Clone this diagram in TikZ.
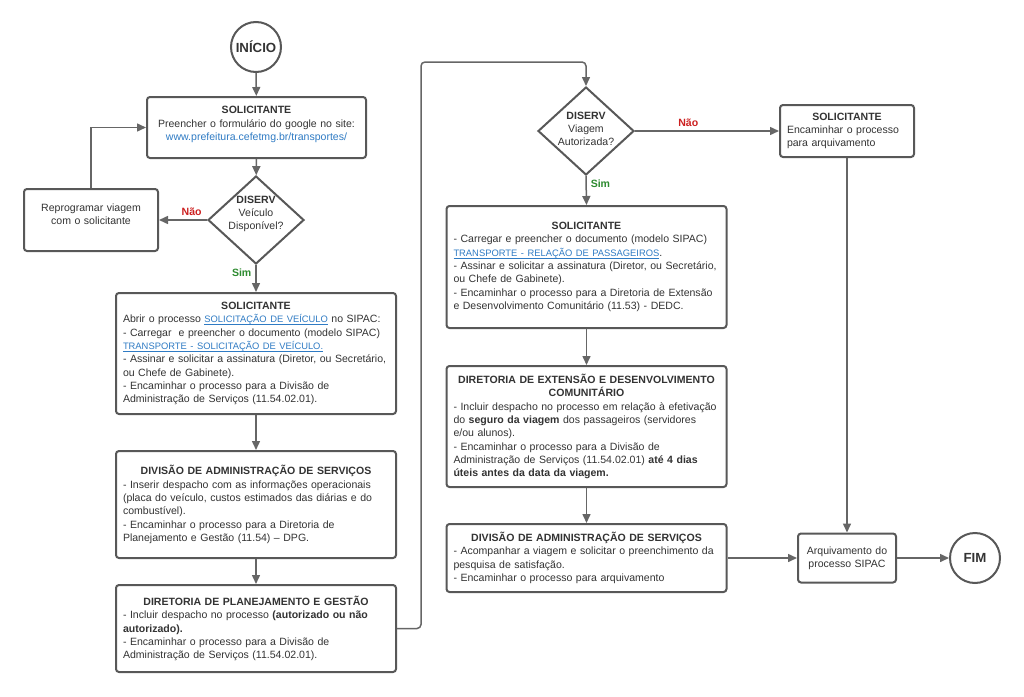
\documentclass[tikz,border=0pt]{standalone}
\usepackage{fontspec}
\setmainfont{Liberation Sans}
\usepackage{tikz}
\usetikzlibrary{shapes.geometric, arrows.meta}
\definecolor{contorno}{HTML}{585858}
\definecolor{linha}{HTML}{666666}
\definecolor{texto}{HTML}{333333}
\definecolor{azul}{HTML}{2F7BC4}
\definecolor{vermelho}{HTML}{CC2020}
\definecolor{verde}{HTML}{2E8B30}
\newlength{\px}
\setlength{\px}{0.3mm}
\setlength{\parindent}{0pt}
\setlength{\parskip}{2\px}
\newcommand{\titulo}[1]{{\centering\textbf{#1}\par}}
\newcommand{\lnk}[1]{\textcolor{azul}{\fontsize{8}{11.4}\selectfont\setbox0\hbox{#1}\rlap{\rule[-1.6pt]{\wd0}{0.45pt}}\box0}}

\begin{document}
\begin{tikzpicture}[-{Triangle[length=2.7mm, width=2.4mm]}, x=0.3mm, y=-0.3mm, color=linha, line width=0.45mm,
        caixa/.style={rectangle, draw=contorno, line width=2\px, rounded corners=3\px, fill=white, text=texto,
               font=\fontsize{9}{11.4}\selectfont, inner xsep=7\px, inner ysep=3\px, align=left},
        decisao/.style={diamond, draw=contorno, line width=2\px, fill=white, inner sep=0pt,
               minimum width=96\px, minimum height=88\px},
        terminal/.style={circle, draw=contorno, line width=2\px, fill=white, minimum size=50\px, inner sep=0pt,
               text=texto, font=\fontsize{11.3}{13}\selectfont\bfseries},
        rotulo/.style={text=texto, font=\fontsize{9}{11.3}\selectfont, align=center},
        nao/.style={text=vermelho, font=\fontsize{9}{11}\selectfont\bfseries},
        sim/.style={text=verde, font=\fontsize{9}{11}\selectfont\bfseries}]

    \useasboundingbox (0,0) rectangle (1024,697);

    % coluna da esquerda
    \node[terminal] (inicio) at (256,47) {INÍCIO};
    \node[caixa, align=center, text width=205\px, minimum height=61\px] (sol1) at (256.5,127.5)
        {\textbf{SOLICITANTE}\\Preencher o formulário do google no site:\\\textcolor{azul}{www.prefeitura.cefetmg.br/transportes/}\par\vspace{6\px}};
    \node[decisao, label={[rotulo, yshift=6\px]center:{\textbf{DISERV}\\Veículo\\Disponível?}}] (d1) at (256,220) {};
    \node[caixa, text width=120\px, minimum height=62\px] (reprog) at (91,220)
        {{\centering Reprogramar viagem\\com o solicitante\par}\vspace{12\px}};
    \node[caixa, text width=266\px, minimum height=121\px] (sol2) at (256,353.5)
        {\titulo{SOLICITANTE}
         \mbox{Abrir o processo \lnk{SOLICITAÇÃO DE VEÍCULO} no SIPAC:}\par
         - Carregar~ e preencher o documento (modelo SIPAC)\\\lnk{TRANSPORTE - SOLICITAÇÃO DE VEÍCULO.}\par
         - Assinar e solicitar a assinatura (Diretor, ou Secretário,\\ou Chefe de Gabinete).\par
         - Encaminhar o processo para a Divisão de\\Administração de Serviços (11.54.02.01).};
    \node[caixa, text width=266\px, minimum height=107\px] (div1) at (256,504.5)
        {\titulo{DIVISÃO DE ADMINISTRAÇÃO DE SERVIÇOS}
         - Inserir despacho com as informações operacionais\\(placa do veículo, custos estimados das diárias e do\\combustível).\par
         - Encaminhar o processo para a Diretoria de\\Planejamento e Gestão (11.54) – DPG.};
    \node[caixa, text width=266\px, minimum height=87\px] (dpg) at (256,628.5)
        {\titulo{DIRETORIA DE PLANEJAMENTO E GESTÃO}
         - Incluir despacho no processo \textbf{(autorizado ou não}\\\textbf{autorizado).}\par
         - Encaminhar o processo para a Divisão de\\Administração de Serviços (11.54.02.01).};

    % coluna do meio
    \node[decisao, label={[rotulo, yshift=2\px]center:{\textbf{DISERV}\\Viagem\\Autorizada?}}] (d2) at (586,131) {};
    \node[caixa, text width=266\px, minimum height=122\px] (sol4) at (586.5,267)
        {\titulo{SOLICITANTE}
         - Carregar e preencher o documento (modelo SIPAC)\\\lnk{TRANSPORTE - RELAÇÃO DE PASSAGEIROS}.\par
         - Assinar e solicitar a assinatura (Diretor, ou Secretário,\\ou Chefe de Gabinete).\par
         - Encaminhar o processo para a Diretoria de Extensão\\e Desenvolvimento Comunitário (11.53) - DEDC.};
    \node[caixa, text width=266\px, minimum height=121\px] (dedc) at (586.5,426.5)
        {\titulo{DIRETORIA DE EXTENSÃO E DESENVOLVIMENTO\\COMUNITÁRIO}
         - Incluir despacho no processo em relação à efetivação\\do \textbf{seguro da viagem} dos passageiros (servidores\\e/ou alunos).\par
         - Encaminhar o processo para a Divisão de\\Administração de Serviços (11.54.02.01) \textbf{até 4 dias}\\\textbf{úteis antes da data da viagem.}};
    \node[caixa, text width=266\px, minimum height=68\px] (div2) at (586.5,558)
        {\titulo{DIVISÃO DE ADMINISTRAÇÃO DE SERVIÇOS}
         - Acompanhar a viagem e solicitar o preenchimento da\\pesquisa de satisfação.\par
         - Encaminhar o processo para arquivamento};

    % coluna da direita
    \node[caixa, text width=120\px, minimum height=52\px] (sol3) at (847,131)
        {\titulo{SOLICITANTE}Encaminhar o processo\\para arquivamento};
    \node[caixa, align=center, inner xsep=6\px, text width=86\px, minimum height=49\px] (arq) at (847,558)
        {Arquivamento do\\processo SIPAC};
    \node[terminal] (fim) at (975,558) {FIM};

    \coordinate (volta) at (421,62);

    \path (inicio) edge (sol1);
    \path (sol1) edge (d1);
    \path (d1.west) edge node[nao, above, pos=0.32] {Não} (reprog.east);
    \draw (reprog.north) |- (sol1.west);
    \path (d1.south) edge node[sim, left, pos=0.3] {Sim} (sol2.north);
    \path (sol2) edge (div1);
    \path (div1) edge (dpg);
    \draw[rounded corners=4\px] (dpg.east) -| (volta) -| (d2.north);

    \path (d2.east) edge node[nao, above, pos=0.37] {Não} (sol3.west);
    \path (d2.south) edge node[sim, right, pos=0.25] {Sim} (sol4.north);
    \path (sol4) edge (dedc);
    \path (dedc) edge (div2);
    \path (div2.east) edge (arq.west);
    \path (sol3) edge (arq);
    \path (arq) edge (fim);

\end{tikzpicture}
\end{document}
